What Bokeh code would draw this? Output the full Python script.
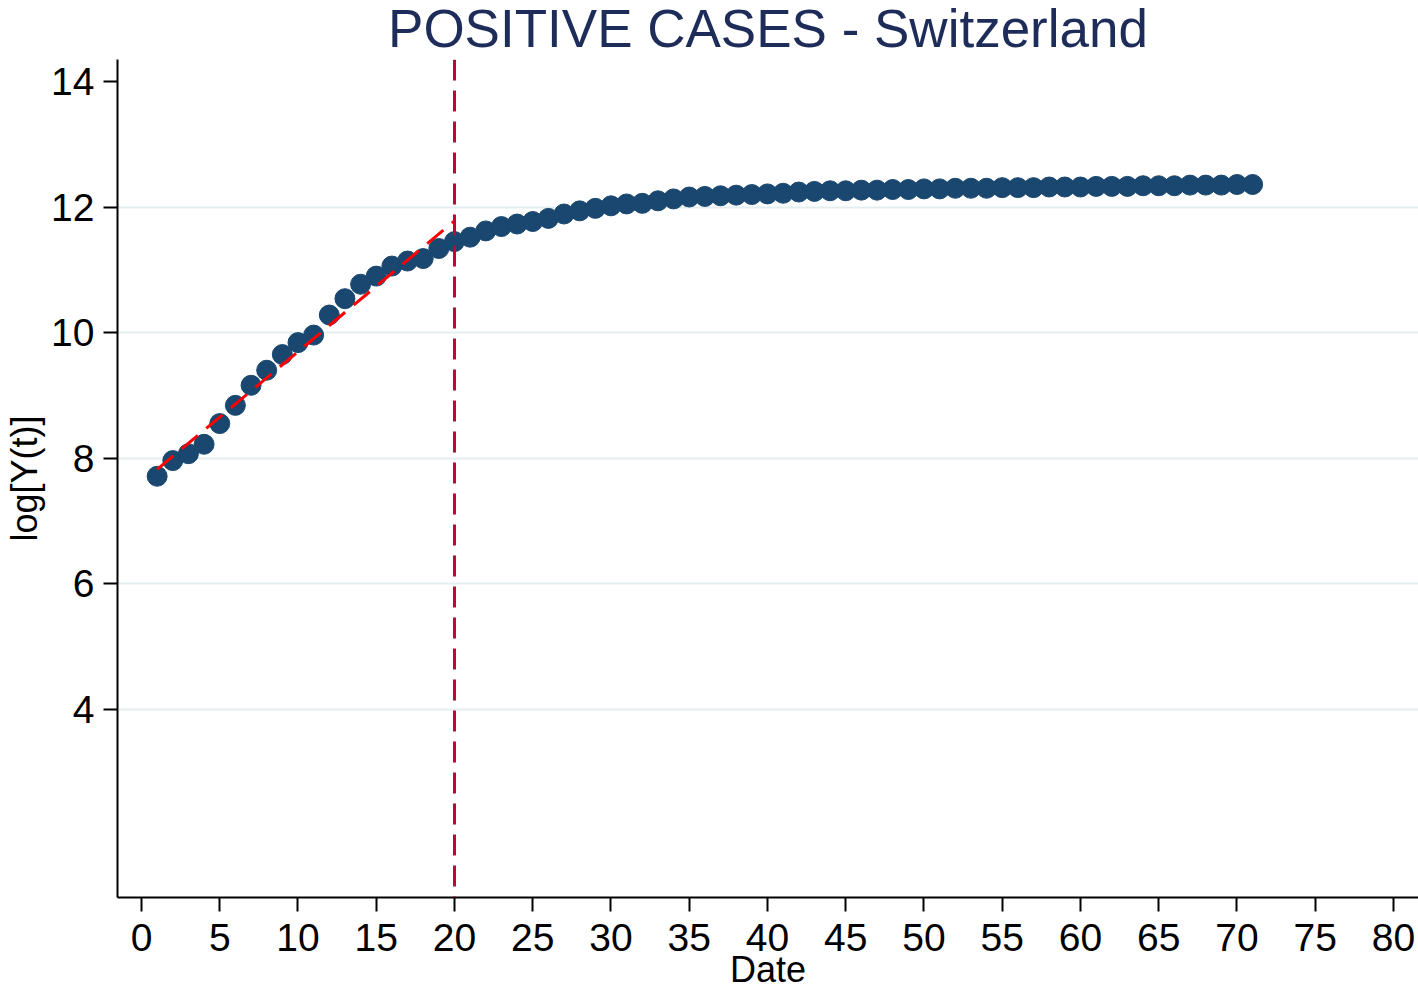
from bokeh.plotting import figure
from bokeh.models import Range1d, FixedTicker, Span, Label
from bokeh.embed import file_html
from bokeh.resources import INLINE

# ---- data ----
days = list(range(1, 72))
log_cases = [7.71, 7.96, 8.07, 8.22, 8.55, 8.84, 9.16, 9.40, 9.65, 9.84,
             9.96, 10.28, 10.54, 10.77, 10.90, 11.06, 11.14, 11.18, 11.34, 11.45,
             11.52, 11.62, 11.69, 11.73, 11.77, 11.82, 11.89, 11.94, 11.98, 12.02,
             12.05, 12.06, 12.10, 12.13, 12.16, 12.17, 12.18, 12.19, 12.20, 12.21,
             12.22, 12.24, 12.25, 12.26, 12.26, 12.27, 12.27, 12.28, 12.28, 12.29,
             12.29, 12.30, 12.30, 12.30, 12.31, 12.31, 12.31, 12.32, 12.32, 12.32,
             12.33, 12.33, 12.33, 12.34, 12.34, 12.34, 12.35, 12.35, 12.35, 12.36, 12.36]
fit_days = [1, 20]
fit_log = [7.82, 11.78]
cutoff_day = 20
x_ticks = list(range(0, 85, 5))
y_ticks = [4, 6, 8, 10, 12, 14]
grid_ticks = [4, 6, 8, 10, 12]

title_text = "POSITIVE CASES - Switzerland"
x_title = "Date"
y_title = "log[Y(t)]"

FONT = "Liberation Sans"
NAVY = "#1a476f"

p = figure(width=1418, height=992, output_backend="svg", toolbar_location=None,
           x_range=Range1d(-1.533, 81.6), y_range=Range1d(0.997, 14.352),
           min_border_left=117, min_border_right=0, min_border_top=57,
           min_border_bottom=95)
p.outline_line_color = None
p.background_fill_color = "white"
p.border_fill_color = "white"

p.add_layout(Label(x=650.5, y=31, x_units="screen", y_units="screen",
                   text=title_text, text_font=FONT, text_font_size="53px",
                   text_color="#1e2c5a", text_align="center",
                   text_baseline="alphabetic", text_line_height=0.8), "above")

p.xgrid.visible = False
p.ygrid.ticker = FixedTicker(ticks=grid_ticks)
p.ygrid.grid_line_color = "#e4edf0"
p.ygrid.grid_line_width = 2

p.xaxis.ticker = FixedTicker(ticks=x_ticks)
p.yaxis.ticker = FixedTicker(ticks=y_ticks)
for ax in p.axis:
    ax.axis_line_width = 2
    ax.axis_line_color = "black"
    ax.major_tick_line_width = 2
    ax.major_tick_line_color = "black"
    ax.major_tick_out = 14
    ax.major_tick_in = 0
    ax.minor_tick_line_color = None
    ax.major_label_text_font = FONT
    ax.major_label_text_font_size = "39px"
    ax.major_label_text_color = "black"
    ax.axis_label_text_font = FONT
    ax.axis_label_text_font_size = "36px"
    ax.axis_label_text_font_style = "normal"
    ax.axis_label_text_color = "black"

p.xaxis.axis_label = x_title
p.yaxis.axis_label = y_title
p.xaxis.major_label_standoff = 12
p.xaxis.axis_label_standoff = -5
p.yaxis.major_label_standoff = 9
p.yaxis.axis_label_standoff = 3

p.scatter(days, log_cases, size=20, fill_color=NAVY, line_color=NAVY)
p.line(fit_days, fit_log, line_color="red", line_width=3, line_dash="21 11")
p.add_layout(Span(location=cutoff_day, dimension="height", line_color="#c10534",
                  line_width=3, line_dash="21 10"))

open("out.html", "w").write(file_html(p, INLINE))
